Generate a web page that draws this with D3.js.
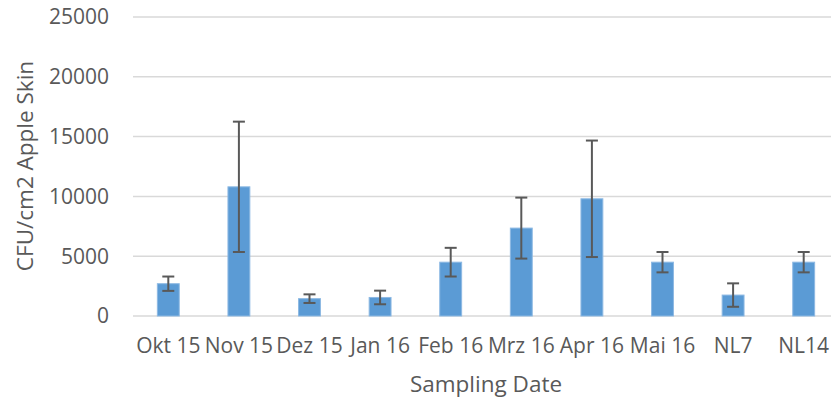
<!DOCTYPE html>
<html>
<head>
<meta charset="utf-8">
<script src="https://cdn.jsdelivr.net/npm/d3@7"></script>
<style>
  body { margin: 0; background: #fff; }
  text { font-family: "Open Sans", sans-serif; fill: #595959; }
</style>
</head>
<body>
<svg class="d3" width="831" height="401"></svg>
<script>
// data
var dates = ["Okt 15", "Nov 15", "Dez 15", "Jan 16", "Feb 16", "Mrz 16", "Apr 16", "Mai 16", "NL7", "NL14"];
var cfu = [2700, 10800, 1450, 1550, 4500, 7350, 9800, 4500, 1750, 4500];
var cfuErr = [600, 5450, 360, 570, 1200, 2550, 4870, 850, 980, 850];
var yTicks = [0, 5000, 10000, 15000, 20000, 25000];

var svg = d3.select("svg.d3"),
    plotLeft = 133, plotRight = 839, plotTop = 17, plotBottom = 316;

var x = d3.scaleBand()
    .domain(dates)
    .range([plotLeft, plotRight])
    .paddingInner(0.69)
    .paddingOuter(0.345);

var y = d3.scaleLinear()
    .domain([0, 25000])
    .range([plotBottom, plotTop]);

// gridlines
svg.append("g")
    .selectAll("line")
    .data(yTicks)
    .enter().append("line")
      .attr("x1", plotLeft)
      .attr("x2", plotRight)
      .attr("y1", function(d) { return y(d); })
      .attr("y2", function(d) { return y(d); })
      .style("stroke", "#d9d9d9")
      .style("stroke-width", 1.5);

// y tick labels
svg.append("g")
    .selectAll("text")
    .data(yTicks)
    .enter().append("text")
      .attr("x", 109)
      .attr("y", function(d) { return y(d); })
      .attr("dy", "0.35em")
      .attr("text-anchor", "end")
      .style("font-size", "21px")
      .text(function(d) { return d; });

// bars
svg.append("g")
    .selectAll("rect")
    .data(dates)
    .enter().append("rect")
      .attr("x", function(d) { return x(d); })
      .attr("width", x.bandwidth())
      .attr("y", function(d, i) { return y(cfu[i]); })
      .attr("height", function(d, i) { return y(0) - y(cfu[i]); })
      .style("fill", "#5b9bd5")
      .style("stroke", "#8db9e3")
      .style("stroke-width", 1);

// error bars
var err = svg.append("g")
    .selectAll("g")
    .data(dates)
    .enter().append("g")
      .style("stroke", "#595959")
      .style("stroke-width", 2);

function cx(d) { return x(d) + x.bandwidth() / 2; }

err.append("line")
    .attr("x1", cx).attr("x2", cx)
    .attr("y1", function(d, i) { return y(cfu[i] + cfuErr[i]); })
    .attr("y2", function(d, i) { return y(cfu[i] - cfuErr[i]); });

[1, -1].forEach(function(s) {
  err.append("line")
      .attr("x1", function(d) { return cx(d) - 6; })
      .attr("x2", function(d) { return cx(d) + 6; })
      .attr("y1", function(d, i) { return y(cfu[i] + s * cfuErr[i]); })
      .attr("y2", function(d, i) { return y(cfu[i] + s * cfuErr[i]); });
});

// x labels
svg.append("g")
    .selectAll("text")
    .data(dates)
    .enter().append("text")
      .attr("x", cx)
      .attr("y", 353)
      .attr("text-anchor", "middle")
      .style("font-size", "21px")
      .text(function(d) { return d; });

// axis titles
svg.append("text")
    .attr("x", (plotLeft + plotRight) / 2)
    .attr("y", 392)
    .attr("text-anchor", "middle")
    .style("font-size", "22.5px")
    .text("Sampling Date");

svg.append("text")
    .attr("transform", "translate(33,166) rotate(-90)")
    .attr("text-anchor", "middle")
    .style("font-size", "22.5px")
    .text("CFU/cm2 Apple Skin");
</script>
</body>
</html>
